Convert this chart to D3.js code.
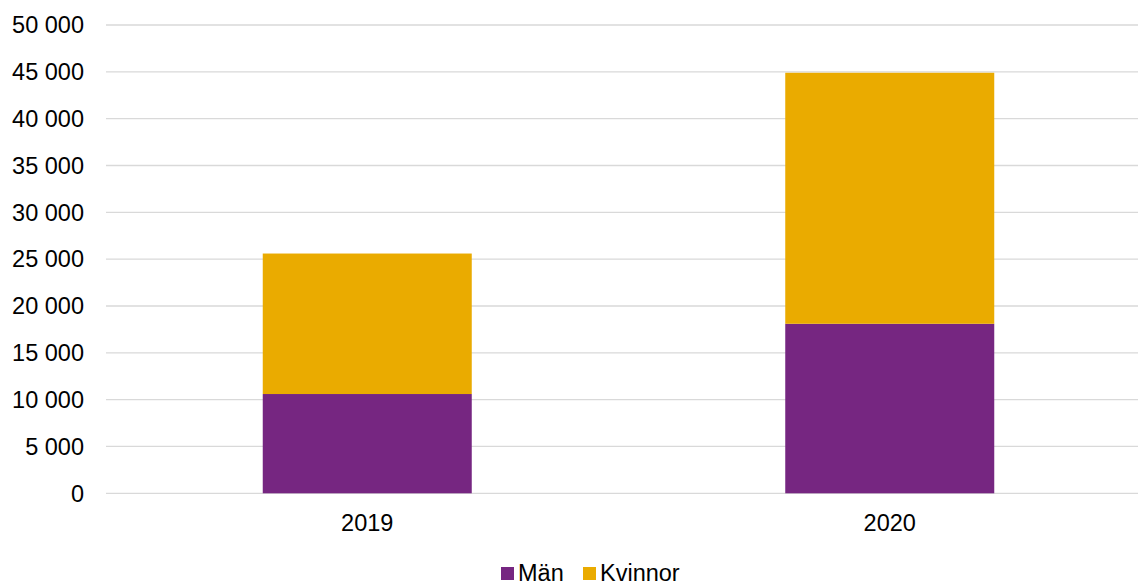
<!DOCTYPE html>
<html>
<head>
<meta charset="utf-8">
<script src="https://cdn.jsdelivr.net/npm/d3@7"></script>
<style>
  body { margin: 0; background: #fff; }
  text { font-family: "Liberation Sans", Arial, sans-serif; fill: #000; }
</style>
</head>
<body>
<svg id="chart" width="1138" height="581"></svg>
<script>
// data
var years = ["2019", "2020"];
var man = [10600, 18100];
var kvinnor = [15000, 26800];
var seriesNames = ["Män", "Kvinnor"];
var seriesColors = ["#762681", "#eaab00"];
var yTicks = [0, 5000, 10000, 15000, 20000, 25000, 30000, 35000, 40000, 45000, 50000];

var rows = years.map(function(y, i) { return { year: y, "Män": man[i], "Kvinnor": kvinnor[i] }; });

var svg = d3.select("#chart");
var plotLeft = 106, plotRight = 1151, plotTop = 25, plotBottom = 493.3;
var fontSize = "23.5px";

var x = d3.scaleBand().domain(years).range([plotLeft, plotRight]).paddingInner(0.6).paddingOuter(0.3);
var y = d3.scaleLinear().domain([0, 50000]).range([plotBottom, plotTop]);

// gridlines
svg.append("g").selectAll("line")
  .data(yTicks)
  .join("line")
  .attr("x1", plotLeft).attr("x2", 1138)
  .attr("y1", function(d) { return y(d); })
  .attr("y2", function(d) { return y(d); })
  .attr("stroke", "#d9d9d9")
  .attr("stroke-width", 1.3);

// y labels
var fmt = function(d) { return d3.format(",")(d).replace(/,/g, " "); };
svg.append("g").selectAll("text")
  .data(yTicks)
  .join("text")
  .attr("x", 84)
  .attr("y", function(d) { return y(d); })
  .attr("dy", "0.35em")
  .attr("text-anchor", "end")
  .style("font-size", fontSize)
  .text(fmt);

// stacked bars
var stack = d3.stack().keys(seriesNames)(rows);
svg.append("g").selectAll("g")
  .data(stack)
  .join("g")
  .attr("fill", function(d, i) { return seriesColors[i]; })
  .selectAll("rect")
  .data(function(d) { return d; })
  .join("rect")
  .attr("x", function(d) { return x(d.data.year); })
  .attr("width", x.bandwidth())
  .attr("y", function(d) { return y(d[1]); })
  .attr("height", function(d) { return y(d[0]) - y(d[1]); });

// x labels
svg.append("g").selectAll("text")
  .data(years)
  .join("text")
  .attr("x", function(d) { return x(d) + x.bandwidth() / 2; })
  .attr("y", 530.5)
  .attr("text-anchor", "middle")
  .style("font-size", fontSize)
  .text(function(d) { return d; });

// legend
var legendX = [501, 583];
var legend = svg.append("g").selectAll("g")
  .data(seriesNames)
  .join("g")
  .attr("transform", function(d, i) { return "translate(" + legendX[i] + ",567)"; });
legend.append("rect")
  .attr("width", 13).attr("height", 13)
  .attr("fill", function(d, i) { return seriesColors[i]; });
legend.append("text")
  .attr("x", 17)
  .attr("y", 14)
  .style("font-size", fontSize)
  .text(function(d) { return d; });
</script>
</body>
</html>
